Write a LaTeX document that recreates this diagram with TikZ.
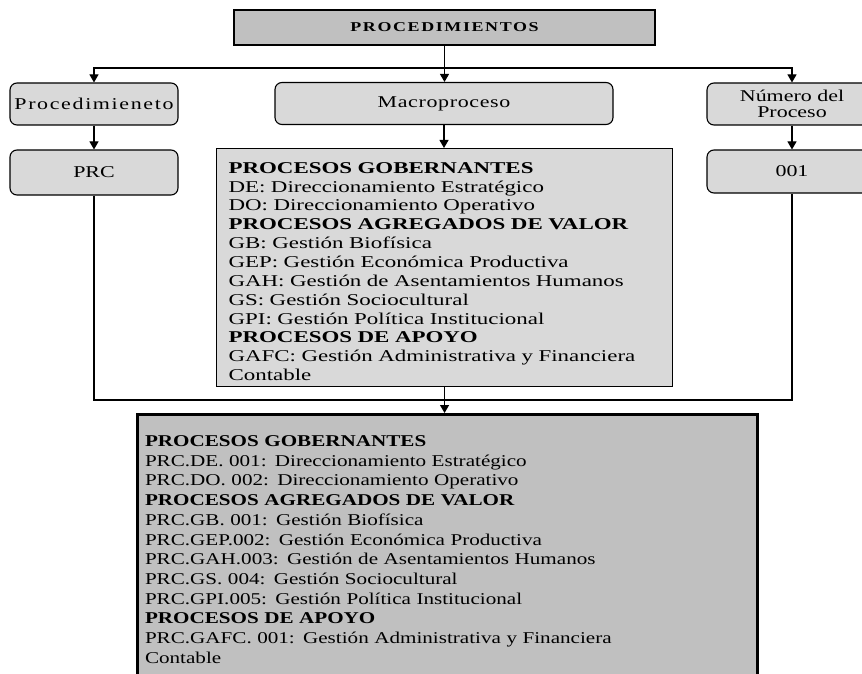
\documentclass[tikz,border=0pt]{standalone}
\usepackage{fontspec}
\setmainfont{Liberation Serif}[FakeStretch=1.33]
\newfontfamily\widefont{Liberation Serif}[FakeStretch=1.39]
\newfontfamily\narrowfont{Liberation Serif}[FakeStretch=1.28]
\usepackage{tikz}
\usetikzlibrary{arrows.meta, positioning, calc}

\definecolor{headgray}{HTML}{C0C0C0}
\definecolor{softgray}{HTML}{D9D9D9}

\begin{document}
\begin{tikzpicture}[x=1pt, y=-1pt, line width=1.1pt, >={Triangle[width=9pt, length=8pt]},
	every node/.style={inner sep=0pt, font=\fontsize{16.5}{19}\selectfont},
	round/.style={draw, fill=softgray, rounded corners=7pt, minimum height=42pt, align=center},
	listbox/.style={draw, anchor=north west, align=left, inner ysep=0pt}]

	\useasboundingbox (0,0) rectangle (862,674);

	\node [draw, line width=1.4pt, fill=headgray, minimum width=421pt, minimum height=35pt,
		font=\fontsize{13.5}{15}\selectfont\bfseries\addfontfeature{LetterSpace=12}] (P) at (444.5,27.5) {PROCEDIMIENTOS};

	\node [round, minimum width=168pt] (N) at (94,104) {\addfontfeature{LetterSpace=10}Procedimieneto};
	\node [round, minimum width=338pt] (M) at (444,103.5) {\addfontfeature{LetterSpace=4}Macroproceso};
	\node [round, minimum width=170pt, font=\fontsize{16.5}{15.5}\selectfont] (R) at (792,104) {Número del\\Proceso};
	\node [round, minimum width=168pt, minimum height=45pt] (C) at (94,172.5) {PRC};
	\node [round, minimum width=170pt, minimum height=43pt] (Z) at (792,171.5) {001};

	\node [listbox, fill=softgray, inner xsep=12pt, text width=432pt, text height=24.7pt, text depth=213.3pt,
		font=\widefont\fontsize{16.5}{18.85}\selectfont] (L) at (216,148) {%
		\textbf{PROCESOS GOBERNANTES}\\
		DE: Direccionamiento Estratégico\\
		DO: Direccionamiento Operativo\\
		\textbf{PROCESOS AGREGADOS DE VALOR}\\
		GB: Gestión Biofísica\\
		GEP: Gestión Económica Productiva\\
		GAH: Gestión de Asentamientos Humanos\\
		GS: Gestión Sociocultural\\
		GPI: Gestión Política Institucional\\
		\textbf{PROCESOS DE APOYO}\\
		GAFC: Gestión Administrativa y Financiera\\
		Contable};

	\node [listbox, fill=headgray, line width=3pt, inner xsep=8pt, text width=604pt, text height=32pt, text depth=300pt,
		font=\narrowfont\fontsize{16.5}{19.7}\selectfont] (F) at (135.5,413) {%
		\textbf{PROCESOS GOBERNANTES}\\
		PRC.DE. 001: Direccionamiento Estratégico\\
		PRC.DO. 002: Direccionamiento Operativo\\
		\textbf{PROCESOS AGREGADOS DE VALOR}\\
		PRC.GB. 001: Gestión Biofísica\\
		PRC.GEP.002: Gestión Económica Productiva\\
		PRC.GAH.003: Gestión de Asentamientos Humanos\\
		PRC.GS. 004: Gestión Sociocultural\\
		PRC.GPI.005: Gestión Política Institucional\\
		\textbf{PROCESOS DE APOYO}\\
		PRC.GAFC. 001: Gestión Administrativa y Financiera\\
		Contable};

	\coordinate (S) at (444,68);
	\coordinate (J) at (444,400);

	\draw [->] (P) -- (P |- M.north);
	\draw [->] (S) -| (N);
	\draw [->] (S) -| (R);
	\draw [->] (N) -- (C);
	\draw [->] (R) -- (Z);
	\draw [->] (M) -- (M |- L.north);
	\draw (C) |- (J) -| (Z);
	\draw [->] (L) -- (L |- F.north);

\end{tikzpicture}
\end{document}
